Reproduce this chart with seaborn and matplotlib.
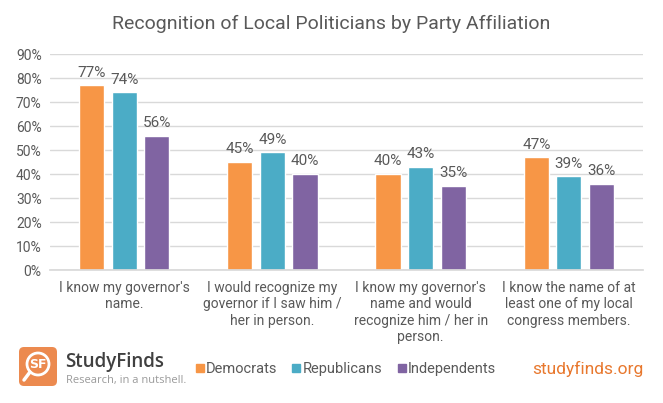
import matplotlib
matplotlib.use("Agg")
import matplotlib.pyplot as plt
import seaborn as sns
import pandas as pd
from matplotlib.patches import FancyBboxPatch, Circle
from matplotlib.lines import Line2D

categories = [
    "I know my governor's\nname.",
    "I would recognize my\ngovernor if I saw him /\nher in person.",
    "I know my governor's\nname and would\nrecognize him / her in\nperson.",
    "I know the name of at\nleast one of my local\ncongress members.",
]
parties = ["Democrats", "Republicans", "Independents"]
democrats = [77, 45, 40, 47]
republicans = [74, 49, 43, 39]
independents = [56, 40, 35, 36]
colors = ["#F79646", "#4BACC6", "#8064A2"]

rows = []
for party, vals in zip(parties, [democrats, republicans, independents]):
    for cat, v in zip(categories, vals):
        rows.append({"category": cat, "party": party, "value": v})
df = pd.DataFrame(rows)

sns.set_theme(style="white")
plt.rcParams["font.family"] = ["Liberation Sans Narrow", "Roboto", "DejaVu Sans"]
text_col = "#595959"

fig = plt.figure(figsize=(6.63, 4.03), dpi=100)
ax = fig.add_axes([50 / 663, 1 - 270 / 403, 593 / 663, 216 / 403])

sns.barplot(data=df, x="category", y="value", hue="party", palette=colors,
            hue_order=parties, order=categories, width=0.66, gap=0.23,
            saturation=1, ax=ax, legend=False)

ax.set_ylim(0, 90)
ax.set_xlim(-0.5, 3.5)
ax.set_yticks(range(0, 91, 10))
ax.set_yticklabels([f"{t}%" for t in range(0, 91, 10)], fontsize=10, color=text_col)
ax.tick_params(axis="x", labelsize=10, colors=text_col, length=0, pad=8)
ax.tick_params(axis="y", length=0, pad=6)
ax.set_xlabel("")
ax.set_ylabel("")
ax.yaxis.grid(True, color="#D9D9D9", linewidth=1)
ax.set_axisbelow(True)
for s in ["top", "right", "left"]:
    ax.spines[s].set_visible(False)
ax.spines["bottom"].set_color("#D9D9D9")

for cont, vals in zip(ax.containers, [democrats, republicans, independents]):
    ax.bar_label(cont, labels=[f"{v}%" for v in vals], padding=4,
                 fontsize=11, color=text_col)

fig.text(0.5, 1 - 24 / 403, "Recognition of Local Politicians by Party Affiliation",
         ha="center", va="center", fontsize=14, color=text_col)

# legend
handles = [Line2D([], [], marker="s", linestyle="", markersize=6,
                  markerfacecolor=c, markeredgecolor=c) for c in colors]
fig.legend(handles, parties, loc="center", bbox_to_anchor=(345 / 663, 1 - 369 / 403),
           ncol=3, frameon=False, fontsize=10.5, handletextpad=0.05, columnspacing=0.9,
           labelcolor=text_col, handlelength=0.8)

# logo
lax = fig.add_axes([0, 0, 1, 1], facecolor="none")
lax.set_xlim(0, 663)
lax.set_ylim(403, 0)
lax.axis("off")
lax.add_patch(FancyBboxPatch((19 + 5, 347 + 5), 38 - 10, 39 - 10,
                             boxstyle="round,pad=5", facecolor="#EC8A4F", edgecolor="none"))
lax.add_patch(Circle((38, 364), 11, facecolor="none", edgecolor="white", linewidth=2))
lax.plot([30, 24], [372, 380], color="white", linewidth=2.5, solid_capstyle="round")
lax.text(38, 364.5, "SF", ha="center", va="center", color="white", fontsize=9,
         fontweight="bold", family="DejaVu Sans")
lax.text(65, 362, "StudyFinds", ha="left", va="center", color="#404040",
         fontsize=13.5, fontweight="semibold", family="Open Sans")
lax.text(66, 380, "Research, in a nutshell.", ha="left", va="center", color="#9A9A9A",
         fontsize=8, family="Open Sans")
lax.text(644, 369, "studyfinds.org", ha="right", va="center", color="#E8782E",
         fontsize=12.5)

fig.savefig("out.png", dpi=100, facecolor="white")
